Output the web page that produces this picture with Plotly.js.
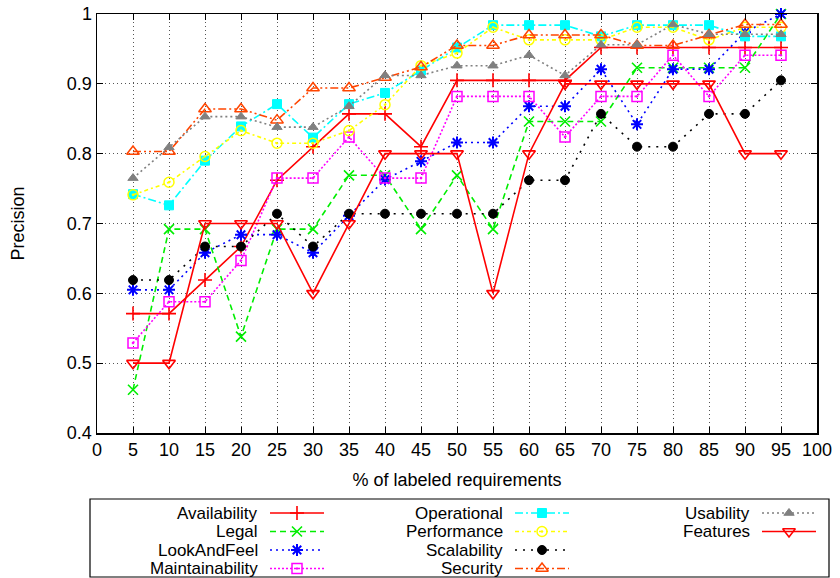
<!DOCTYPE html>
<html>
<head>
<meta charset="utf-8">
<script src="https://cdn.plot.ly/plotly-3.0.1.min.js"></script>
<style>
  html, body { margin: 0; padding: 0; background: #fff; }
  #chart { width: 840px; height: 578px; }
</style>
</head>
<body>
<div id="chart"></div>
<script>
// ---- data ----
const xPercent = [5,10,15,20,25,30,35,40,45,50,55,60,65,70,75,80,85,90,95];

const availability    = [0.571,0.571,0.619,0.667,0.762,0.810,0.857,0.857,0.810,0.905,0.905,0.905,0.905,0.952,0.952,0.952,0.952,0.952,0.952];
const legal           = [0.462,0.692,0.692,0.538,0.692,0.692,0.769,0.769,0.692,0.769,0.692,0.846,0.846,0.846,0.923,0.923,0.923,0.923,1.000];
const lookAndFeel     = [0.605,0.605,0.658,0.684,0.684,0.658,0.711,0.763,0.789,0.816,0.816,0.868,0.868,0.921,0.842,0.921,0.921,0.974,1.000];
const maintainability = [0.529,0.588,0.588,0.647,0.765,0.765,0.824,0.765,0.765,0.882,0.882,0.882,0.824,0.882,0.882,0.941,0.882,0.941,0.941];
const operational     = [0.742,0.726,0.790,0.839,0.871,0.823,0.871,0.887,0.919,0.952,0.984,0.984,0.984,0.968,0.984,0.984,0.984,0.968,0.968];
const performance     = [0.741,0.759,0.796,0.833,0.815,0.815,0.833,0.870,0.926,0.944,0.981,0.963,0.963,0.963,0.981,0.981,0.963,0.981,0.981];
const scalability     = [0.619,0.619,0.667,0.667,0.714,0.667,0.714,0.714,0.714,0.714,0.714,0.762,0.762,0.857,0.810,0.810,0.857,0.857,0.905];
const security        = [0.803,0.803,0.864,0.864,0.848,0.894,0.894,0.909,0.924,0.955,0.955,0.970,0.970,0.970,0.955,0.955,0.970,0.985,0.985];
const usability       = [0.765,0.809,0.853,0.853,0.838,0.838,0.868,0.912,0.912,0.926,0.926,0.941,0.912,0.956,0.956,0.985,0.971,0.971,0.971];
const features        = [0.5,0.5,0.7,0.7,0.7,0.6,0.7,0.8,0.8,0.8,0.6,0.8,0.9,0.9,0.9,0.9,0.9,0.8,0.8];

const seriesNames = ["Availability","Legal","LookAndFeel","Maintainability","Operational",
                     "Performance","Scalability","Security","Usability","Features"];
const seriesValues = [availability, legal, lookAndFeel, maintainability, operational,
                      performance, scalability, security, usability, features];

const xTickVals = [0,5,10,15,20,25,30,35,40,45,50,55,60,65,70,75,80,85,90,95,100];
const yTickVals = [0.4,0.5,0.6,0.7,0.8,0.9,1.0];
const yTickText = ["0.4","0.5","0.6","0.7","0.8","0.9","1"];

const xTitle = "% of labeled requirements";
const yTitle = "Precision";

// ---- styles ----
const styles = [
  {color:"#ff0000", dash:"solid",                 symbol:"cross-thin",         size:10, lw:1.6},
  {color:"#00ee00", dash:"6px,4px",               symbol:"x-thin",             size:10, lw:1.6},
  {color:"#0000ff", dash:"2px,4px",               symbol:"asterisk",           size:10, lw:2},
  {color:"#ff00ff", dash:"2px,2px",               symbol:"square-open-dot",    size:10, lw:1.5},
  {color:"#00ffff", dash:"8px,3px,2px,3px",       symbol:"square",             size:9,  lw:1},
  {color:"#ffff00", dash:"4px,3px,2px,3px",       symbol:"circle-open-dot",    size:10, lw:1.5},
  {color:"#000000", dash:"2px,6px",               symbol:"circle",             size:9,  lw:1},
  {color:"#ff4500", dash:"8px,3px,2px,3px,2px,3px", symbol:"triangle-up-open", size:11, lw:1.5},
  {color:"#808080", dash:"2px,3px",               symbol:"triangle-up",        size:9,  lw:1},
  {color:"#ff0000", dash:"solid",                 symbol:"triangle-down-open", size:11, lw:1.6}
];

const W = 840, H = 578;
const plotL = 97, plotR = 817, plotT = 14, plotB = 433;
const FONT = "Liberation Sans, Arial, Helvetica, sans-serif";

const traces = [];
seriesNames.forEach((name, i) => {
  const s = styles[i];
  traces.push({
    type: "scatter", mode: "lines+markers", name: name,
    x: xPercent, y: seriesValues[i], xaxis: "x", yaxis: "y",
    line: {color: s.color, width: 1.6, dash: s.dash},
    marker: {symbol: s.symbol, size: s.size, color: s.color, line: {color: s.color, width: s.lw}},
    showlegend: false, cliponaxis: false
  });
});

// ---- custom gnuplot-style legend (text left of sample) ----
const legL = 90, legR = 829, legT = 499, legB = 577;
const colTextRight = [259, 504, 751];
const rowY = [513, 531.5, 550, 568.5];
const sampleGap = 11, sampleLen = 54;
const annotations = [];
seriesNames.forEach((name, i) => {
  const s = styles[i];
  const col = Math.floor(i / 4), row = i % 4;
  const x0 = colTextRight[col] + sampleGap, x1 = x0 + sampleLen;
  traces.push({
    type: "scatter", mode: "lines+markers", name: name + " (key)",
    x: [x0, (x0 + x1) / 2, x1], y: [rowY[row], rowY[row], rowY[row]],
    xaxis: "x2", yaxis: "y2", hoverinfo: "skip", showlegend: false,
    line: {color: s.color, width: 1.6, dash: s.dash},
    marker: {symbol: s.symbol, size: s.size, color: s.color, opacity: [0,1,0],
             line: {color: s.color, width: s.lw}}
  });
  annotations.push({
    xref: "x2", yref: "y2", x: colTextRight[col], y: rowY[row],
    xanchor: "right", yanchor: "middle", showarrow: false, text: name,
    borderpad: 0, font: {family: FONT, size: 17, color: "#000"}
  });
});

const layout = {
  width: W, height: H,
  margin: {l: 0, r: 0, t: 0, b: 0},
  paper_bgcolor: "#fff", plot_bgcolor: "#fff",
  showlegend: false,
  font: {family: FONT, size: 18, color: "#000"},
  xaxis: {
    domain: [plotL / W, plotR / W], range: [0, 100], automargin: false,
    tickmode: "array", tickvals: xTickVals, ticks: "inside", ticklen: 6, tickwidth: 1,
    tickcolor: "#000", showline: true, linecolor: "#000", linewidth: 1.5, mirror: "allticks",
    showgrid: true, gridcolor: "#555", gridwidth: 1, griddash: "1px,3px",
    zeroline: false, tickfont: {family: FONT, size: 18},
    title: {text: xTitle, font: {family: FONT, size: 18}, standoff: 14}
  },
  yaxis: {
    domain: [(H - plotB) / H, (H - plotT) / H], range: [0.4, 1], automargin: false,
    tickmode: "array", tickvals: yTickVals, ticktext: yTickText, ticks: "inside", ticklen: 6,
    tickwidth: 1, tickcolor: "#000", showline: true, linecolor: "#000", linewidth: 1.5,
    mirror: "allticks", showgrid: true, gridcolor: "#555", gridwidth: 1, griddash: "1px,3px",
    zeroline: false, tickfont: {family: FONT, size: 18},
    title: {text: yTitle, font: {family: FONT, size: 18}, standoff: 37}
  },
  xaxis2: {domain: [legL / W, legR / W], range: [legL, legR], visible: false, fixedrange: true},
  yaxis2: {domain: [(H - legB) / H, (H - legT) / H], range: [legB, legT], visible: false, fixedrange: true},
  annotations: annotations,
  shapes: [{
    type: "rect", xref: "paper", yref: "paper",
    x0: legL / W, x1: legR / W, y0: (H - legB) / H, y1: (H - legT) / H,
    line: {color: "#000", width: 1.2}, fillcolor: "rgba(0,0,0,0)"
  }]
};

Plotly.newPlot("chart", traces, layout, {staticPlot: true, displayModeBar: false});
</script>
</body>
</html>
